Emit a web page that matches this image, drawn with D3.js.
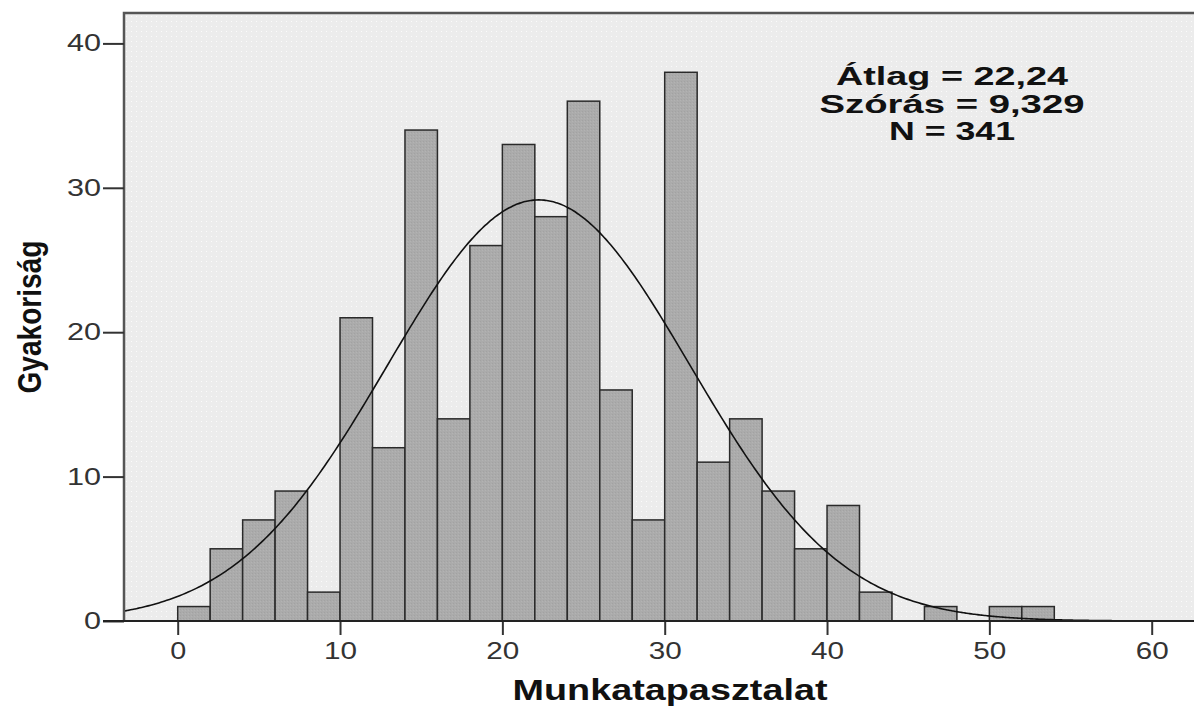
<!DOCTYPE html>
<html>
<head>
<meta charset="utf-8">
<script src="https://cdn.jsdelivr.net/npm/d3@7"></script>
<style>
  html, body { margin: 0; padding: 0; background: #fff; }
  svg { display: block; }
</style>
</head>
<body>
<svg id="chart" width="1194" height="708"></svg>
<script>
// Histogram of work experience (bin width 2 years)
const binStarts = [0,2,4,6,8,10,12,14,16,18,20,22,24,26,28,30,32,34,36,38,40,42,44,46,48,50,52];
const binCounts = [1,5,7,9,2,21,12,34,14,26,33,28,36,16,7,38,11,14,9,5,8,2,0,1,0,1,1];
const binWidth = 2;
const xTicks = [0,10,20,30,40,50,60];
const yTicks = [0,10,20,30,40];
const statLines = ["Átlag = 22,24", "Szórás = 9,329", "N = 341"];
const meanVal = 22.24, sdVal = 9.329, nVal = 341;

const svg = d3.select("#chart");
const plot = { left: 124, top: 13, right: 1194, bottom: 621 };
const sans = "Liberation Sans, Arial, sans-serif";

const x = d3.scaleLinear().domain([0, 60]).range([177.7, 1151.7]);
const y = d3.scaleLinear().domain([0, 40]).range([621, 43.4]);

// background with fine dot texture
const defs = svg.append("defs");
const pat = defs.append("pattern").attr("id", "dots")
  .attr("width", 5).attr("height", 5).attr("patternUnits", "userSpaceOnUse");
pat.append("rect").attr("width", 5).attr("height", 5).attr("fill", "#ececec");
pat.append("rect").attr("x", 1).attr("y", 1).attr("width", 1).attr("height", 1).attr("fill", "#fbfbfb");
const bpat = defs.append("pattern").attr("id", "barTex")
  .attr("width", 3).attr("height", 3).attr("patternUnits", "userSpaceOnUse");
bpat.append("rect").attr("width", 3).attr("height", 3).attr("fill", "#ababab");
bpat.append("rect").attr("x", 0).attr("y", 0).attr("width", 1).attr("height", 1).attr("fill", "#a2a2a2");
bpat.append("rect").attr("x", 2).attr("y", 1).attr("width", 1).attr("height", 1).attr("fill", "#b3b3b3");

svg.append("rect")
  .attr("x", plot.left).attr("y", plot.top)
  .attr("width", plot.right - plot.left).attr("height", plot.bottom - plot.top)
  .attr("fill", "url(#dots)");

// bars
const bins = binStarts.map((s, i) => ({ x0: s, x1: s + binWidth, n: binCounts[i] }))
  .filter(d => d.n > 0);
svg.append("g").selectAll("rect").data(bins).join("rect")
  .attr("x", d => x(d.x0))
  .attr("y", d => y(d.n))
  .attr("width", d => x(d.x1) - x(d.x0))
  .attr("height", d => y(0) - y(d.n))
  .attr("fill", "url(#barTex)")
  .attr("stroke", "#2a2a2a")
  .attr("stroke-width", 1.5);

// normal curve scaled to counts
const xLo = x.invert(plot.left), xHi = x.invert(plot.right);
const pts = d3.range(0, 401).map(i => {
  const v = xLo + (xHi - xLo) * i / 400;
  const dens = Math.exp(-0.5 * Math.pow((v - meanVal) / sdVal, 2)) / (sdVal * Math.sqrt(2 * Math.PI));
  return [v, nVal * binWidth * dens];
});
svg.append("path")
  .datum(pts)
  .attr("d", d3.line().x(d => x(d[0])).y(d => y(d[1])).curve(d3.curveBasis))
  .attr("fill", "none").attr("stroke", "#111").attr("stroke-width", 1.6);

// frame: top and left
svg.append("path")
  .attr("d", `M${plot.left},${plot.bottom}V${plot.top}H${plot.right}`)
  .attr("fill", "none").attr("stroke", "#555").attr("stroke-width", 2.5);

// wide tick labels: fixed width per digit
const digitW = 17;

// y axis
const yAxis = d3.axisLeft(y).tickValues(yTicks).tickSize(21).tickPadding(2).tickFormat(d3.format("d"));
const gy = svg.append("g").attr("transform", `translate(${plot.left},0)`).call(yAxis);
gy.select(".domain").remove();
gy.selectAll(".tick line").attr("stroke", "#333").attr("stroke-width", 2);
gy.selectAll(".tick text").attr("font-family", sans)
  .attr("font-size", 23.5).attr("fill", "#333")
  .attr("textLength", d => String(d).length * digitW)
  .attr("lengthAdjust", "spacingAndGlyphs");

// x axis
const xAxis = d3.axisBottom(x).tickValues(xTicks).tickSize(14).tickPadding(7).tickFormat(d3.format("d"));
const gx = svg.append("g").attr("transform", `translate(0,${plot.bottom})`).call(xAxis);
gx.select(".domain").remove();
gx.selectAll(".tick line").attr("stroke", "#333").attr("stroke-width", 2);
gx.selectAll(".tick text").attr("font-family", sans)
  .attr("font-size", 23.5).attr("fill", "#333")
  .attr("textLength", d => String(d).length * digitW - 1)
  .attr("lengthAdjust", "spacingAndGlyphs");

// baseline across the plot
svg.append("line")
  .attr("x1", 103).attr("x2", plot.right)
  .attr("y1", plot.bottom).attr("y2", plot.bottom)
  .attr("stroke", "#222").attr("stroke-width", 2);

// summary statistics
const statWidths = [232, 265, 126];
svg.append("g").selectAll("text").data(statLines).join("text")
  .attr("x", 952).attr("y", (d, i) => 85 + i * 27.5)
  .attr("text-anchor", "middle")
  .attr("font-family", sans)
  .attr("font-weight", "bold").attr("font-size", 25).attr("fill", "#111")
  .attr("textLength", (d, i) => statWidths[i])
  .attr("lengthAdjust", "spacingAndGlyphs")
  .text(d => d);

// axis titles
svg.append("text")
  .attr("x", 670).attr("y", 700)
  .attr("text-anchor", "middle")
  .attr("font-family", sans)
  .attr("font-weight", "bold").attr("font-size", 29).attr("fill", "#111")
  .attr("textLength", 315).attr("lengthAdjust", "spacingAndGlyphs")
  .text("Munkatapasztalat");

svg.append("text")
  .attr("transform", "translate(41,317) rotate(-90)")
  .attr("text-anchor", "middle")
  .attr("font-family", "Liberation Sans Narrow, Arial Narrow, Liberation Sans, sans-serif")
  .attr("font-weight", "bold").attr("font-size", 34).attr("fill", "#111")
  .attr("textLength", 153).attr("lengthAdjust", "spacingAndGlyphs")
  .text("Gyakoriság");
</script>
</body>
</html>
